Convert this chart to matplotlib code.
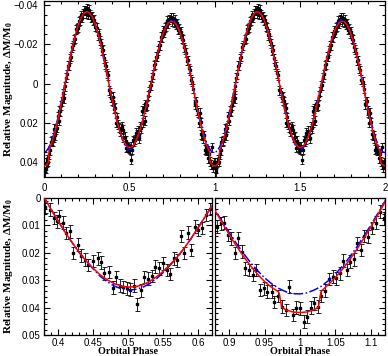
import numpy as np
import matplotlib
matplotlib.use("Agg")
import matplotlib.pyplot as plt
from matplotlib.ticker import MultipleLocator, FuncFormatter

# model light curves, one orbit (phase 0..1)
model_phase = [0.00, 0.01, 0.02, 0.026, 0.029, 0.03, 0.04, 0.05, 0.06, 0.07, 0.08, 0.09,
               0.10, 0.11, 0.12, 0.13, 0.14, 0.15, 0.16, 0.17, 0.18, 0.19,
               0.20, 0.21, 0.22, 0.23, 0.24, 0.25, 0.26, 0.27, 0.28, 0.29,
               0.30, 0.31, 0.32, 0.33, 0.34, 0.35, 0.36, 0.37, 0.38, 0.39,
               0.40, 0.41, 0.42, 0.43, 0.44, 0.45, 0.46, 0.47, 0.48, 0.49,
               0.50, 0.51, 0.52, 0.53, 0.54, 0.55, 0.56, 0.57, 0.58, 0.59,
               0.60, 0.61, 0.62, 0.63, 0.64, 0.65, 0.66, 0.67, 0.68, 0.69,
               0.70, 0.71, 0.72, 0.73, 0.74, 0.75, 0.76, 0.77, 0.78, 0.79,
               0.80, 0.81, 0.82, 0.83, 0.84, 0.85, 0.86, 0.87, 0.88, 0.89,
               0.90, 0.91, 0.92, 0.93, 0.94, 0.95, 0.96, 0.97, 0.971, 0.974, 0.98, 0.99, 1.00]
model_blue = [0.0350, 0.0346, 0.0336, 0.0328, 0.0324, 0.0322, 0.0302, 0.0277, 0.0249, 0.0216, 0.0180, 0.0140,
              0.0099, 0.0056, 0.0012, -0.0032, -0.0076, -0.0119, -0.0160, -0.0199, -0.0235, -0.0267,
              -0.0296, -0.0320, -0.0339, -0.0353, -0.0362, -0.0365, -0.0363, -0.0355, -0.0343, -0.0325,
              -0.0302, -0.0275, -0.0243, -0.0209, -0.0171, -0.0131, -0.0089, -0.0046, -0.0003, 0.0041,
              0.0083, 0.0124, 0.0162, 0.0198, 0.0230, 0.0258, 0.0285, 0.0305, 0.0321, 0.0331,
              0.0336, 0.0334, 0.0327, 0.0314, 0.0296, 0.0273, 0.0246, 0.0217, 0.0184, 0.0148,
              0.0109, 0.0069, 0.0028, -0.0013, -0.0054, -0.0094, -0.0133, -0.0169, -0.0203, -0.0233,
              -0.0260, -0.0283, -0.0301, -0.0314, -0.0322, -0.0325, -0.0322, -0.0312, -0.0297, -0.0277,
              -0.0253, -0.0225, -0.0194, -0.0160, -0.0122, -0.0083, -0.0041, 0.0001, 0.0043, 0.0085,
              0.0126, 0.0165, 0.0201, 0.0235, 0.0265, 0.0291, 0.0313, 0.0330, 0.0331, 0.0335, 0.0342, 0.0349, 0.0350]
model_red = [0.0418, 0.0416, 0.0408, 0.0398, 0.0352, 0.0340, 0.0316, 0.0290, 0.0260, 0.0226, 0.0189, 0.0148,
             0.0106, 0.0061, 0.0015, -0.0030, -0.0076, -0.0119, -0.0160, -0.0199, -0.0235, -0.0267,
             -0.0296, -0.0320, -0.0339, -0.0353, -0.0362, -0.0365, -0.0363, -0.0355, -0.0343, -0.0325,
             -0.0302, -0.0275, -0.0243, -0.0209, -0.0171, -0.0131, -0.0089, -0.0046, -0.0003, 0.0041,
             0.0083, 0.0124, 0.0162, 0.0198, 0.0229, 0.0256, 0.0280, 0.0298, 0.0312, 0.0321,
             0.0325, 0.0324, 0.0318, 0.0306, 0.0289, 0.0268, 0.0243, 0.0216, 0.0184, 0.0148,
             0.0109, 0.0069, 0.0028, -0.0013, -0.0054, -0.0094, -0.0133, -0.0169, -0.0203, -0.0233,
             -0.0259, -0.0280, -0.0296, -0.0308, -0.0315, -0.0317, -0.0315, -0.0306, -0.0293, -0.0275,
             -0.0253, -0.0225, -0.0194, -0.0160, -0.0122, -0.0083, -0.0041, 0.0003, 0.0046, 0.0090,
             0.0133, 0.0174, 0.0212, 0.0247, 0.0278, 0.0305, 0.0326, 0.0343, 0.0352, 0.0398, 0.0408, 0.0416, 0.0418]

# observations around primary minimum (phase 0.5)
obs_phase_a = [0.381, 0.388, 0.394, 0.399, 0.402, 0.407, 0.412, 0.417, 0.422, 0.428, 0.433, 0.438,
               0.443, 0.450, 0.457, 0.461, 0.466, 0.473, 0.478, 0.483, 0.488, 0.493, 0.498, 0.503,
               0.508, 0.513, 0.518, 0.523, 0.529, 0.534, 0.539, 0.544, 0.550, 0.555, 0.560, 0.565,
               0.570, 0.576, 0.580, 0.585, 0.590, 0.595, 0.600, 0.606, 0.612, 0.617]
obs_mag_a = [0.0033, 0.0043, 0.0073, 0.0085, 0.0067, 0.0090, 0.0128, 0.0122, 0.0200, 0.0170, 0.0210, 0.0225,
             0.0245, 0.0230, 0.0220, 0.0235, 0.0275, 0.0270, 0.0327, 0.0290, 0.0320, 0.0325, 0.0330, 0.0334,
             0.0320, 0.0388, 0.0337, 0.0288, 0.0294, 0.0285, 0.0250, 0.0257, 0.0239, 0.0263, 0.0278, 0.0220,
             0.0227, 0.0138, 0.0200, 0.0126, 0.0190, 0.0104, 0.0117, 0.0110, 0.0062, 0.0040]

# observations around secondary minimum (phase 1.0)
obs_phase_b = [0.883, 0.888, 0.893, 0.898, 0.902, 0.908, 0.913, 0.918, 0.923, 0.928, 0.933, 0.938,
               0.944, 0.949, 0.953, 0.960, 0.964, 0.969, 0.975, 0.980, 0.985, 0.990, 0.995, 1.000,
               1.006, 1.010, 1.015, 1.020, 1.025, 1.030, 1.036, 1.041, 1.047, 1.051, 1.056, 1.061,
               1.066, 1.070, 1.076, 1.081, 1.086, 1.090, 1.096, 1.102, 1.107, 1.113, 1.118]
obs_mag_b = [0.0105, 0.0092, 0.0090, 0.0135, 0.0147, 0.0200, 0.0147, 0.0196, 0.0257, 0.0263, 0.0280, 0.0263,
             0.0336, 0.0330, 0.0342, 0.0342, 0.0380, 0.0358, 0.0397, 0.0409, 0.0324, 0.0427, 0.0400, 0.0403,
             0.0451, 0.0433, 0.0400, 0.0384, 0.0397, 0.0358, 0.0338, 0.0296, 0.0287, 0.0293, 0.0275, 0.0229,
             0.0263, 0.0232, 0.0224, 0.0165, 0.0190, 0.0139, 0.0141, 0.0110, 0.0090, 0.0050, 0.0074]

# observations on the rising / falling branches (only in the full curve)
obs_phase_c = [0.122, 0.128, 0.134, 0.140, 0.146, 0.152, 0.158, 0.164, 0.170, 0.176, 0.182, 0.188,
               0.194, 0.200, 0.206, 0.212, 0.218, 0.224, 0.230, 0.236, 0.242, 0.248, 0.254, 0.260,
               0.266, 0.272, 0.278, 0.284, 0.290, 0.296, 0.302, 0.308, 0.314, 0.320, 0.326, 0.332,
               0.338, 0.344, 0.350, 0.356, 0.362, 0.368, 0.374,
               0.622, 0.628, 0.634, 0.640, 0.646, 0.652, 0.658, 0.664, 0.670, 0.676, 0.682, 0.688,
               0.694, 0.700, 0.706, 0.712, 0.718, 0.724, 0.730, 0.736, 0.742, 0.748, 0.754, 0.760,
               0.766, 0.772, 0.778, 0.784, 0.790, 0.796, 0.802, 0.808, 0.814, 0.820, 0.826, 0.832,
               0.838, 0.844, 0.850, 0.856, 0.862, 0.868, 0.874]
obs_mag_c = [0.0014, -0.0030, -0.0047, -0.0090, -0.0094, -0.0129, -0.0136, -0.0185, -0.0194, -0.0225, -0.0229, -0.0277,
             -0.0278, -0.0285, -0.0317, -0.0319, -0.0347, -0.0334, -0.0355, -0.0374, -0.0372, -0.0359, -0.0384, -0.0351,
             -0.0376, -0.0352, -0.0334, -0.0343, -0.0322, -0.0325, -0.0289, -0.0283, -0.0246, -0.0253, -0.0218, -0.0206,
             -0.0167, -0.0172, -0.0130, -0.0095, -0.0088, -0.0052, -0.0043,
             0.0011, 0.0009, -0.0032, -0.0047, -0.0094, -0.0098, -0.0136, -0.0137, -0.0167, -0.0195, -0.0194, -0.0239,
             -0.0237, -0.0268, -0.0258, -0.0287, -0.0288, -0.0319, -0.0307, -0.0326, -0.0338, -0.0318, -0.0335, -0.0312,
             -0.0324, -0.0299, -0.0307, -0.0273, -0.0279, -0.0255, -0.0263, -0.0227, -0.0224, -0.0184, -0.0172, -0.0158,
             -0.0115, -0.0118, -0.0077, -0.0067, -0.0019, -0.0010, 0.0025]
obs_err = 0.0023

plt.rcParams['font.family'] = 'Liberation Sans'
plt.rcParams['font.size'] = 7
plt.rcParams['axes.linewidth'] = 0.9

fig = plt.figure(figsize=(3.88, 3.56), dpi=100)
ax_top = fig.add_axes([0.1134, 0.5028, 0.8789, 0.4944])
ax_l = fig.add_axes([0.1134, 0.059, 0.433, 0.3848])
ax_r = fig.add_axes([0.5541, 0.059, 0.438, 0.3848], sharey=ax_l)

mph = np.array(model_phase)
mph2 = np.concatenate([mph - 1, mph, mph + 1])
blue2 = np.concatenate([model_blue] * 3)
red2 = np.concatenate([model_red] * 3)

all_phase = np.concatenate([obs_phase_a, obs_phase_b, obs_phase_c])
all_mag = np.concatenate([obs_mag_a, obs_mag_b, obs_mag_c])
wrapped = np.mod(all_phase, 1.0)


def fmt(v, pos):
    s = '%g' % round(v, 4)
    return s.replace('-', '\u2212')


ebkw = dict(fmt='s', color='k', ecolor='k', elinewidth=0.6, capthick=0.6, zorder=2)

# full light curve, plotted over two cycles
for shift in (0, 1):
    ax_top.errorbar(wrapped + shift, all_mag, yerr=obs_err, ms=1.6, capsize=1.2, **ebkw)
ax_top.plot(mph2, blue2, color='blue', lw=1.1, ls='-.', zorder=3)
ax_top.plot(mph2, red2, color='red', lw=1.1, zorder=4)
ax_top.set_xlim(0, 2)
ax_top.set_ylim(0.0475, -0.042)
ax_top.xaxis.set_major_locator(MultipleLocator(0.5))
ax_top.xaxis.set_minor_locator(MultipleLocator(0.1))
ax_top.yaxis.set_major_locator(MultipleLocator(0.02))
ax_top.yaxis.set_minor_locator(MultipleLocator(0.005))

# zoom on the two minima
ax_l.errorbar(obs_phase_a, obs_mag_a, yerr=obs_err, ms=2.1, capsize=1.8, **ebkw)
ax_r.errorbar(obs_phase_b, obs_mag_b, yerr=obs_err, ms=2.1, capsize=1.8, **ebkw)
for ax, lo, hi in ((ax_l, 0.38, 0.62), (ax_r, 0.88, 1.12)):
    ax.plot(mph2, blue2, color='blue', lw=1.1, ls='-.', zorder=3)
    ax.plot(mph2, red2, color='red', lw=1.1, zorder=4)
    ax.set_xlim(lo, hi)
    ax.xaxis.set_major_locator(MultipleLocator(0.05))
    ax.xaxis.set_minor_locator(MultipleLocator(0.01))
ax_l.set_ylim(0.05, 0)
ax_l.yaxis.set_major_locator(MultipleLocator(0.01))
ax_l.yaxis.set_minor_locator(MultipleLocator(0.002))
ax_r.tick_params(labelleft=False)

for ax in (ax_top, ax_l, ax_r):
    ax.xaxis.set_major_formatter(FuncFormatter(fmt))
    ax.yaxis.set_major_formatter(FuncFormatter(fmt))
    ax.tick_params(which='both', direction='in', top=True, right=True, width=0.8)
    ax.tick_params(which='major', length=4.5)
    ax.tick_params(which='minor', length=2.3)
ax_top.tick_params(axis='x', pad=4)
ax_top.tick_params(axis='y', pad=4)
ax_l.tick_params(axis='both', pad=2.5)
ax_r.tick_params(axis='x', pad=2.5)

ylab = 'Relative Magnitude, \u0394M/M$_{\\mathregular{0}}$'
ykw = dict(family='Liberation Serif', weight='bold', fontsize=8, rotation=90, ha='center', va='center')
xkw = dict(family='Liberation Serif', weight='bold', fontsize=7.3, ha='center', va='center')
fig.text(0.022, 0.75, ylab, **ykw)
fig.text(0.022, 0.253, ylab, **ykw)
fig.text(0.1134 + 0.433 / 2, 0.012, 'Orbital Phase', **xkw)
fig.text(0.5541 + 0.438 / 2, 0.012, 'Orbital Phase', **xkw)

fig.savefig('out.png', dpi=100)
